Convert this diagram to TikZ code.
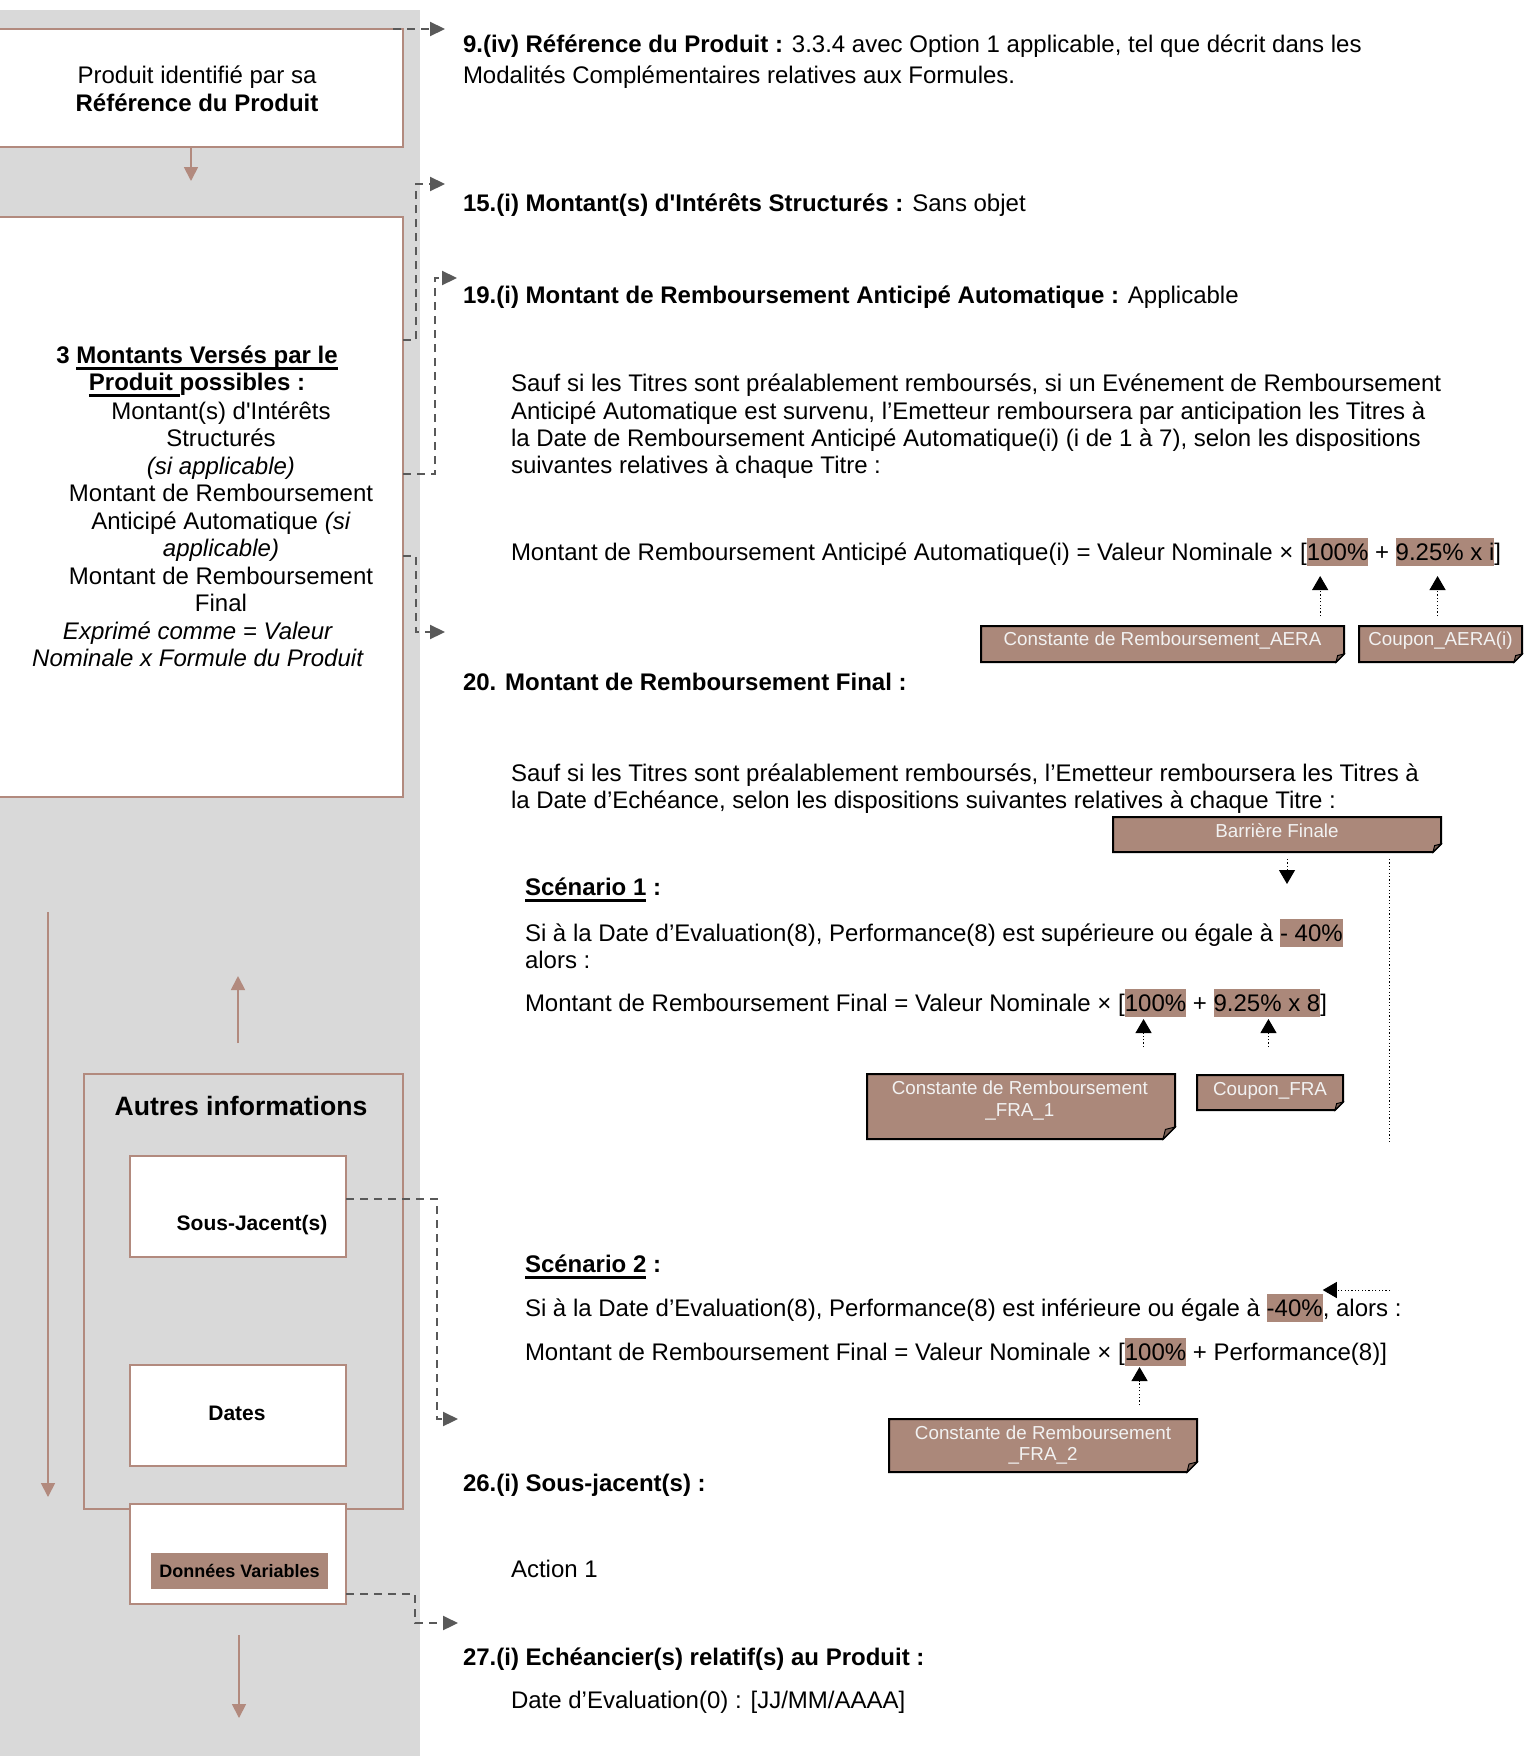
\documentclass[tikz,border=0pt]{standalone}
\usepackage{fontspec}
\setmainfont{Liberation Sans}[Ligatures=TeXOff]
\usetikzlibrary{arrows.meta,fit,calc}
\newlength\ulw
\newcommand\undl[1]{\settowidth{\ulw}{#1}\rlap{\rule[-3.3pt]{\ulw}{1.1pt}}#1}
\newcommand\gap{\kern\fontdimen2\font}
\begin{document}
\begin{tikzpicture}[x=0.5pt,y=-0.5pt,
txt/.style={anchor=base west,inner sep=0pt,outer sep=0pt,font=\fontsize{12pt}{13.75pt}\selectfont},
ctxt/.style={anchor=base,inner sep=0pt,outer sep=0pt,font=\fontsize{12pt}{13.75pt}\selectfont},
hl/.style={txt,fill=tagbrown,text height=11pt,text depth=3pt},
lbox/.style={draw=brownline,line width=0.9pt,fill=white,inner sep=0pt,outer sep=0pt},
tagarea/.style={inner sep=0pt,outer sep=0pt},
tagbox/.style={draw=black,line width=1pt,fill=tagbrown},
tagfold/.style={draw=black,line width=0.5pt,fill=tagbrown!70!black},
tagtxt/.style={anchor=base,inner sep=0pt,outer sep=0pt,text=tagtext,font=\fontsize{9.4pt}{11pt}\selectfont},
barrow/.style={draw=brownline,line width=0.9pt,-{Triangle[width=7pt,length=7pt]}},
dlink/.style={draw=linkgrey,line width=1.1pt,dash pattern=on 4pt off 3pt,-{Triangle[width=7pt,length=7.5pt]}},
dptr/.style={draw=black,line width=0.5pt,dash pattern=on 0.6pt off 1.1pt,-{Triangle[width=8pt,length=7pt]}},
dline/.style={draw=black,line width=0.5pt,dash pattern=on 0.6pt off 1.1pt}]
\definecolor{bggrey}{RGB}{217,217,217}
\definecolor{brownline}{RGB}{178,138,126}
\definecolor{tagbrown}{RGB}{171,136,122}
\definecolor{tagtext}{RGB}{242,242,242}
\definecolor{linkgrey}{RGB}{89,89,89}
\path[use as bounding box,fill=white] (0,0) rectangle (1523,1756);

\fill[bggrey] (0,10) rectangle (420,1756);

\node[lbox, fit={(-5,29) (403,147)}] (b1) {};

\node[ctxt] (b1l1) at (197,83) {Produit identifié par sa};

\node[ctxt] (b1l2) at (197,111) {\textbf{Référence du Produit}};

\node[lbox, fit={(-5,217) (403,797)}] (b2) {};

\node[ctxt] (b2l1) at (197,363) {\textbf{3 \undl{Montants Versés par le}}};

\node[ctxt] (b2l2) at (197,390) {\textbf{\undl{Produit }possibles :}};

\node[ctxt] (b2l3) at (221,419) {Montant(s) d'Intérêts};

\node[ctxt] (b2l4) at (221,446.5) {Structurés};

\node[ctxt] (b2l5) at (221,474) {\textit{(si applicable)}};

\node[ctxt] (b2l6) at (221,501.5) {Montant de Remboursement};

\node[ctxt] (b2l7) at (221,529) {Anticipé Automatique \textit{(si}};

\node[ctxt] (b2l8) at (221,556.5) {\textit{applicable)}};

\node[ctxt] (b2l9) at (221,584) {Montant de Remboursement};

\node[ctxt] (b2l10) at (221,611.5) {Final};

\node[ctxt] (b2l11) at (198,639) {\textit{Exprimé comme = Valeur}};

\node[ctxt] (b2l12) at (198,666.5) {\textit{Nominale x Formule du Produit}};

\node[lbox, fill=bggrey, fit={(84,1074) (403,1509)}] (ai) {};

\node[ctxt, font=\bfseries\fontsize{13.3pt}{15pt}\selectfont] (ait) at (241,1115) {Autres informations};

\node[lbox, fit={(130,1156) (346,1257)}] (sj) {};

\node[ctxt, font=\bfseries\fontsize{10.5pt}{12pt}\selectfont] (sjt) at (252,1230) {Sous-Jacent(s)};

\node[lbox, fit={(130,1365) (346,1466)}] (dt) {};

\node[ctxt, font=\bfseries\fontsize{10.5pt}{12pt}\selectfont] (dtt) at (237,1420) {Dates};

\node[lbox, fit={(130,1504) (346,1604)}] (dv) {};

\node[fill=tagbrown, inner sep=0pt, minimum width=88.5pt, minimum height=18pt, font=\bfseries\fontsize{9pt}{11pt}\selectfont] (dvt) at (239.5,1571) {Données Variables};

\coordinate (vtop) at (48,912);

\coordinate (vbot) at (48,1497);

\coordinate (dvend) at (239,1718);

\draw[barrow] (vtop) -- (vbot);

\draw[barrow, shorten >=18pt] ([xshift=-4pt]b1.south) -- ($(b1.south |- b2.north)+(-8,0)$);

\draw[barrow, shorten <=15.5pt, shorten >=89.5pt] ($(ai.north)+(-5.5,0)$) -- ($(ai.north |- b2.south)+(-5.5,0)$);

\draw[barrow, shorten <=15.5pt] (dvend |- dv.south) -- (dvend);

\node[txt] (t9a) at (463,53) {\textbf{9.(iv) Référence du Produit :} 3.3.4 avec Option 1 applicable, tel que décrit dans les};

\node[txt] (t9b) at (463,83) {Modalités Complémentaires relatives aux Formules.};

\node[txt] (t15) at (463,211) {\textbf{15.(i) Montant(s) d'Intérêts Structurés :} Sans objet};

\node[txt] (t19) at (463,303) {\textbf{19.(i) Montant de Remboursement Anticipé Automatique :} Applicable};

\node[txt] (p19a) at (511,391) {Sauf si les Titres sont préalablement remboursés, si un Evénement de Remboursement};

\node[txt] (p19b) at (511,419) {Anticipé Automatique est survenu, l’Emetteur remboursera par anticipation les Titres à};

\node[txt] (p19c) at (511,446) {la Date de Remboursement Anticipé Automatique(i) (i de 1 à 7), selon les dispositions};

\node[txt] (p19d) at (511,473) {suivantes relatives à chaque Titre :};

\node[txt] (fa1) at (511,560) {Montant de Remboursement Anticipé Automatique(i) = Valeur Nominale × [};

\node[hl] (fa2) at (fa1.base east) {100\%};

\node[txt] (fa3) at (fa2.base east) {\gap+\gap};

\node[hl] (fa4) at (fa3.base east) {9.25\% x i};

\node[txt] (fa5) at (fa4.base east) {]};

\node[txt] (t20) at (463,690) {\textbf{20. Montant de Remboursement Final :}};

\node[txt] (p20a) at (511,781) {Sauf si les Titres sont préalablement remboursés, l’Emetteur remboursera les Titres à};

\node[txt] (p20b) at (511,808) {la Date d’Echéance, selon les dispositions suivantes relatives à chaque Titre :};

\node[txt] (sc1) at (525,895) {\textbf{\undl{Scénario 1} :}};

\node[txt] (s1a) at (525,941) {Si à la Date d’Evaluation(8), Performance(8) est supérieure ou égale à\gap};

\node[hl] (s1b) at (s1a.base east) {- 40\%};

\node[txt] (s1c) at (525,968) {alors :};

\node[txt] (f1a) at (525,1011) {Montant de Remboursement Final = Valeur Nominale × [};

\node[hl] (f1b) at (f1a.base east) {100\%};

\node[txt] (f1c) at (f1b.base east) {\gap+\gap};

\node[hl] (f1d) at (f1c.base east) {9.25\% x 8};

\node[txt] (f1e) at (f1d.base east) {]};

\node[txt] (sc2) at (525,1272) {\textbf{\undl{Scénario 2} :}};

\node[txt] (s2a) at (525,1316) {Si à la Date d’Evaluation(8), Performance(8) est inférieure ou égale à\gap};

\node[hl] (s2b) at (s2a.base east) {-40\%};

\node[txt] (s2c) at (s2b.base east) {, alors :};

\node[txt] (f2a) at (525,1360) {Montant de Remboursement Final = Valeur Nominale × [};

\node[hl] (f2b) at (f2a.base east) {100\%};

\node[txt] (f2c) at (f2b.base east) {\gap+ Performance(8)]};

\node[txt] (t26) at (463,1491) {\textbf{26.(i) Sous-jacent(s) :}};

\node[txt] (act) at (511,1577) {Action 1};

\node[txt] (t27) at (463,1665) {\textbf{27.(i) Echéancier(s) relatif(s) au Produit :}};

\node[txt] (dat) at (511,1708) {Date d’Evaluation(0) : [JJ/MM/AAAA]};

\node[tagarea, fit={(981,626) (1344,662)}] (cra) {};

\node[tagarea, fit={(1359,626) (1522,662)}] (cpa) {};

\node[tagarea, fit={(1113,817) (1441,852)}] (bar) {};

\node[tagarea, fit={(867,1074) (1175,1139)}] (cf1) {};

\node[tagarea, fit={(1197,1075) (1343,1110)}] (cpf) {};

\node[tagarea, fit={(889,1419) (1197,1472)}] (cf2) {};

\path[tagbox] (cra.north west) -- (cra.north east) -- ([yshift=4pt]cra.south east) -- ([xshift=-4pt]cra.south east) -- (cra.south west) -- cycle;

\path[tagfold] ([yshift=4pt]cra.south east) -- ([xshift=-4pt]cra.south east) -- ([xshift=-3.2pt,yshift=3.2pt]cra.south east) -- cycle;

\path[tagbox] (cpa.north west) -- (cpa.north east) -- ([yshift=4pt]cpa.south east) -- ([xshift=-4pt]cpa.south east) -- (cpa.south west) -- cycle;

\path[tagfold] ([yshift=4pt]cpa.south east) -- ([xshift=-4pt]cpa.south east) -- ([xshift=-3.2pt,yshift=3.2pt]cpa.south east) -- cycle;

\path[tagbox] (bar.north west) -- (bar.north east) -- ([yshift=4pt]bar.south east) -- ([xshift=-4pt]bar.south east) -- (bar.south west) -- cycle;

\path[tagfold] ([yshift=4pt]bar.south east) -- ([xshift=-4pt]bar.south east) -- ([xshift=-3.2pt,yshift=3.2pt]bar.south east) -- cycle;

\path[tagbox] (cf1.north west) -- (cf1.north east) -- ([yshift=6pt]cf1.south east) -- ([xshift=-6pt]cf1.south east) -- (cf1.south west) -- cycle;

\path[tagfold] ([yshift=6pt]cf1.south east) -- ([xshift=-6pt]cf1.south east) -- ([xshift=-4.8pt,yshift=4.8pt]cf1.south east) -- cycle;

\path[tagbox] (cpf.north west) -- (cpf.north east) -- ([yshift=4pt]cpf.south east) -- ([xshift=-4pt]cpf.south east) -- (cpf.south west) -- cycle;

\path[tagfold] ([yshift=4pt]cpf.south east) -- ([xshift=-4pt]cpf.south east) -- ([xshift=-3.2pt,yshift=3.2pt]cpf.south east) -- cycle;

\path[tagbox] (cf2.north west) -- (cf2.north east) -- ([yshift=5pt]cf2.south east) -- ([xshift=-5pt]cf2.south east) -- (cf2.south west) -- cycle;

\path[tagfold] ([yshift=5pt]cf2.south east) -- ([xshift=-5pt]cf2.south east) -- ([xshift=-4pt,yshift=4pt]cf2.south east) -- cycle;

\node[tagtxt] (lcra) at ([yshift=-9.5pt]cra.north) {Constante de Remboursement\_AERA};

\node[tagtxt] (lcpa) at ([yshift=-9.5pt]cpa.north) {Coupon\_AERA(i)};

\node[tagtxt] (lbar) at ([yshift=-10pt]bar.north) {Barrière Finale};

\node[tagtxt] (lcf1a) at ([yshift=-10pt,xshift=-0.6pt]cf1.north) {Constante de Remboursement};

\node[tagtxt] (lcf1b) at ([yshift=-21pt,xshift=-0.6pt]cf1.north) {\_FRA\_1};

\node[tagtxt] (lcpf) at ([yshift=-10pt]cpf.north) {Coupon\_FRA};

\node[tagtxt] (lcf2a) at ([yshift=-10pt]cf2.north) {Constante de Remboursement};

\node[tagtxt] (lcf2b) at ([yshift=-20.5pt]cf2.north) {\_FRA\_2};

\coordinate (brk) at (1389,1142);

\coordinate (brk2) at (1390,1290);

\draw[dptr, shorten <=5pt, shorten >=5pt] ($(fa2.south |- cra.north)+(-17.5,0)$) -- ($(fa2.south)+(-17.5,0)$);

\draw[dptr, shorten <=5pt, shorten >=5pt] ($(fa4.south |- cpa.north)+(-7.5,0)$) -- ($(fa4.south)+(-7.5,0)$);

\draw[dptr, shorten <=13.5pt, shorten >=1pt] ($(f1b.south |- cf1.north)+(-12,0)$) -- ($(f1b.south)+(-12,0)$);

\draw[dptr, shorten <=14pt, shorten >=1pt] ($(f1d.south |- cpf.north)+(1.5,0)$) -- ($(f1d.south)+(1.5,0)$);

\draw[dptr, shorten <=7pt, shorten >=0.5pt] ($(f2b.south |- cf2.north)+(-16,0)$) -- ($(f2b.south)+(-16,0)$);

\draw[dptr, shorten <=3.5pt, shorten >=17.5pt] ($(bar.south)+(10,0)$) -- ($(bar.south |- s1b.north)+(10,0)$);

\draw[dline, shorten <=3.5pt] ($(bar.south)+(112,0)$) -- (brk);

\draw[dptr] (brk2) -- (brk2 -| s2b.north east);

\draw[dlink, shorten >=9pt] ([xshift=-5pt]b1.north east) -- (b1.north east -| t9a.west);

\draw[dlink, shorten >=9pt] (b2.east |- 0,340) -| (416,184) -- (t15.west |- 0,184);

\draw[dlink, shorten >=3pt] (b2.east |- 0,474) -| (435,278) -- (t19.west |- 0,278);

\draw[dlink, shorten >=9pt] (b2.east |- 0,556) -| (416,632) -- (t20.west |- 0,632);

\draw[dlink, shorten >=2.5pt] (sj.east |- 0,1199) -| (437,1419) -- (t26.west |- 0,1419);

\draw[dlink, shorten >=2.5pt] (dv.east |- 0,1594) -| (415,1623) -- (t27.west |- 0,1623);
\end{tikzpicture}
\end{document}
